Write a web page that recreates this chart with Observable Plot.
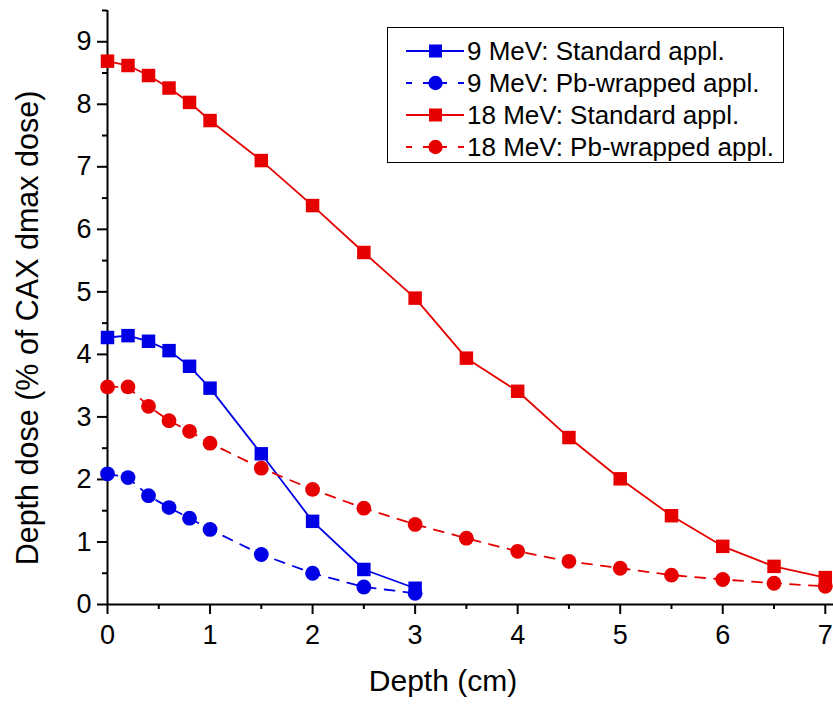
<!DOCTYPE html>
<html>
<head>
<meta charset="utf-8">
<script src="https://cdn.jsdelivr.net/npm/d3@7"></script>
<script src="https://cdn.jsdelivr.net/npm/@observablehq/plot@0.6"></script>
<style>
  html, body { margin: 0; padding: 0; background: #fff; }
  #wrap { position: relative; width: 833px; height: 704px; font-family: "Liberation Sans", Arial, sans-serif; }
  #legend { position: absolute; left: 387px; top: 27px; width: 395px; height: 134px; border: 1.5px solid #000; background: #fff; }
  .row { position: absolute; left: 0; height: 32px; display: flex; align-items: center; }
  .row svg { margin-left: 18px; }
  .row span { font-size: 26px; color: #000; margin-left: 1px; white-space: nowrap; }
</style>
</head>
<body>
<div id="wrap"></div>
<script>
const blue = "#0000e6";
const red = "#e60000";

const depth9 = [0, 0.2, 0.4, 0.6, 0.8, 1, 1.5, 2, 2.5, 3];
const std9 = [4.27, 4.30, 4.21, 4.06, 3.81, 3.46, 2.41, 1.33, 0.56, 0.26];
const pb9 = [2.09, 2.03, 1.74, 1.55, 1.38, 1.20, 0.80, 0.50, 0.28, 0.18];

const depth18 = [0, 0.2, 0.4, 0.6, 0.8, 1, 1.5, 2, 2.5, 3, 3.5, 4, 4.5, 5, 5.5, 6, 6.5, 7];
const std18 = [8.69, 8.62, 8.46, 8.26, 8.03, 7.74, 7.10, 6.38, 5.63, 4.90, 3.94, 3.41, 2.67, 2.01, 1.42, 0.93, 0.61, 0.43];
const pb18 = [3.48, 3.48, 3.17, 2.94, 2.77, 2.58, 2.18, 1.84, 1.54, 1.28, 1.06, 0.85, 0.69, 0.58, 0.47, 0.40, 0.34, 0.29];

const seriesNames = ["9 MeV: Standard appl.", "9 MeV: Pb-wrapped appl.", "18 MeV: Standard appl.", "18 MeV: Pb-wrapped appl."];
const xMajor = [0, 1, 2, 3, 4, 5, 6, 7];
const xMinor = [0.5, 1.5, 2.5, 3.5, 4.5, 5.5, 6.5];
const yMajor = [0, 1, 2, 3, 4, 5, 6, 7, 8, 9];
const yMinor = [0.5, 1.5, 2.5, 3.5, 4.5, 5.5, 6.5, 7.5, 8.5, 9.5];

const series = [
  {name: seriesNames[0], xs: depth9, ys: std9, color: blue, dashed: false, symbol: "square"},
  {name: seriesNames[1], xs: depth9, ys: pb9, color: blue, dashed: true, symbol: "circle"},
  {name: seriesNames[2], xs: depth18, ys: std18, color: red, dashed: false, symbol: "square"},
  {name: seriesNames[3], xs: depth18, ys: pb18, color: red, dashed: true, symbol: "circle"}
];

const marks = [];
for (const s of series) {
  const data = s.xs.map((x, i) => ({x, y: s.ys[i]}));
  marks.push(Plot.line(data, {x: "x", y: "y", stroke: s.color, strokeWidth: 1.8, strokeDasharray: s.dashed ? "10,9" : null}));
}
for (const s of series) {
  const data = s.xs.map((x, i) => ({x, y: s.ys[i]}));
  marks.push(Plot.dot(data, {x: "x", y: "y", fill: s.color, stroke: "none", symbol: s.symbol, r: s.symbol === "square" ? 7.6 : 7.4}));
}

const chart = Plot.plot({
  width: 833,
  height: 704,
  marginLeft: 107,
  marginRight: 0,
  marginTop: 10,
  marginBottom: 100,
  style: {fontFamily: "Liberation Sans, Arial, sans-serif", background: "#fff", color: "#000"},
  x: {domain: [0, 7.08]},
  y: {domain: [0, 9.5]},
  marks: [
    Plot.axisX({ticks: xMajor, tickSize: 10, tickPadding: 10, fontSize: 27, tickFormat: d3.format("d"), label: null, stroke: "#000", strokeWidth: 2}),
    Plot.axisX({ticks: xMinor, tickSize: 5, tickFormat: null, text: null, label: null, stroke: "#000", strokeWidth: 2}),
    Plot.axisY({ticks: yMajor, tickSize: 10, tickPadding: 6, fontSize: 27, tickFormat: d3.format("d"), label: null, stroke: "#000", strokeWidth: 2}),
    Plot.axisY({ticks: yMinor, tickSize: 5, tickFormat: null, text: null, label: null, stroke: "#000", strokeWidth: 2}),
    Plot.ruleY([0], {stroke: "#000", strokeWidth: 2}),
    Plot.ruleX([0], {stroke: "#000", strokeWidth: 2}),
    ...marks
  ]
});

const wrap = document.getElementById("wrap");
wrap.appendChild(chart);

// axis titles
const svg = d3.select(chart);
svg.append("text")
  .attr("x", 443).attr("y", 691)
  .attr("text-anchor", "middle")
  .attr("font-size", 30)
  .attr("font-family", "Liberation Sans, Arial, sans-serif")
  .attr("fill", "#000")
  .text("Depth (cm)");
svg.append("text")
  .attr("transform", "translate(38,328) rotate(-90)")
  .attr("text-anchor", "middle")
  .attr("font-size", 30.5)
  .attr("font-family", "Liberation Sans, Arial, sans-serif")
  .attr("fill", "#000")
  .text("Depth dose (% of CAX dmax dose)");

// legend
const legend = document.createElement("div");
legend.id = "legend";
series.forEach((s, i) => {
  const row = document.createElement("div");
  row.className = "row";
  row.style.top = (7 + i * 32) + "px";
  const ns = "http://www.w3.org/2000/svg";
  const sv = document.createElementNS(ns, "svg");
  sv.setAttribute("width", 60);
  sv.setAttribute("height", 20);
  const ln = document.createElementNS(ns, "line");
  ln.setAttribute("x1", 0); ln.setAttribute("x2", 58);
  ln.setAttribute("y1", 10); ln.setAttribute("y2", 10);
  ln.setAttribute("stroke", s.color);
  ln.setAttribute("stroke-width", 1.8);
  if (s.dashed) ln.setAttribute("stroke-dasharray", "6,11,24,11");
  sv.appendChild(ln);
  if (s.symbol === "square") {
    const r = document.createElementNS(ns, "rect");
    r.setAttribute("x", 23); r.setAttribute("y", 3.5);
    r.setAttribute("width", 13); r.setAttribute("height", 13);
    r.setAttribute("fill", s.color);
    sv.appendChild(r);
  } else {
    const c = document.createElementNS(ns, "circle");
    c.setAttribute("cx", 29.5); c.setAttribute("cy", 10); c.setAttribute("r", 7.2);
    c.setAttribute("fill", s.color);
    sv.appendChild(c);
  }
  row.appendChild(sv);
  const sp = document.createElement("span");
  sp.textContent = s.name;
  row.appendChild(sp);
  legend.appendChild(row);
});
wrap.appendChild(legend);
</script>
</body>
</html>
